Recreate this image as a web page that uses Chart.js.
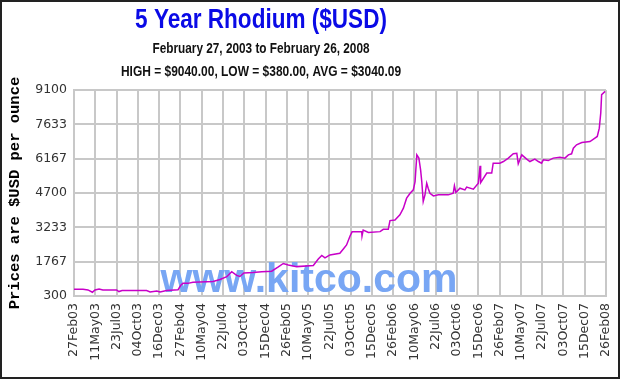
<!DOCTYPE html>
<html>
<head>
<meta charset="utf-8">
<script src="https://cdn.jsdelivr.net/npm/chart.js@4"></script>
<style>
  html,body{margin:0;padding:0;background:#fff;}
  #frame{width:620px;height:379px;box-sizing:border-box;border:2px solid #222;background:#fff;}
  canvas{display:block;}
</style>
</head>
<body>
<div id="frame"><canvas id="rhodium" width="616" height="375"></canvas></div>
<script>
// rhodium price, x = days since 27 Feb 2003
const days = [0,31,48,63,72,86,99,146,154,165,
  249,261,284,295,318,357,367,374,391,408,
  455,477,501,524,541,558,569,583,614,644,
  678,701,718,735,764,821,838,850,861,878,
  912,924,935,947,954,987,988,992,1010,1050,
  1061,1078,1084,1101,1118,1130,1141,1153,1164,1170,
  1176,1183,1189,1193,1198,1204,1210,1215,1221,1233,
  1250,1284,1301,1305,1310,1324,1341,1347,1370,1387,
  1393,1395,1416,1433,1438,1461,1473,1490,1507,1519,
  1524,1536,1553,1564,1581,1593,1604,1610,1627,1644,
  1667,1684,1696,1707,1713,1724,1742,1770,1787,1795,
  1802,1807,1810,1822];
const prices = [590,590,560,460,560,600,560,560,490,535,
  530,470,515,470,530,570,770,840,840,885,
  910,920,1005,1125,1340,1180,1135,1285,1305,1340,
  1360,1540,1690,1625,1555,1605,1880,2030,1925,2055,
  2125,2310,2480,2865,3040,3050,2865,3120,3015,3050,
  3150,3150,3520,3550,3765,4050,4480,4690,4835,5190,
  6330,6190,5690,5190,4335,4620,5120,4905,4690,4575,
  4620,4620,4690,5005,4720,4905,4835,4950,4865,5120,
  5860,5145,5550,5550,5975,5975,6045,6190,6375,6395,
  5945,6330,6145,6045,6145,6045,5975,6115,6085,6190,
  6230,6190,6330,6375,6615,6760,6855,6900,7045,7115,
  7470,8115,8900,9040];

const xLabels = ['27Feb03','11May03','23Jul03','04Oct03','16Dec03','27Feb04','10May04','22Jul04',
  '03Oct04','15Dec04','26Feb05','10May05','22Jul05','03Oct05','15Dec05','26Feb06','10May06',
  '22Jul06','03Oct06','15Dec06','26Feb07','10May07','22Jul07','03Oct07','15Dec07','26Feb08'];
const labelStep = 73; // days between date labels
const yTicks = [300,1767,3233,4700,6167,7633,9100];

const titleLines = ['5 Year Rhodium ($USD)',
  'February 27, 2003 to February 26, 2008',
  'HIGH = $9040.00, LOW = $380.00, AVG = $3040.09'];
const watermark = 'www.kitco.com';

// titles are a narrow bold face, so squeeze Liberation Sans a bit
const titlePlugin = {
  id:'titles',
  afterDraw(chart){
    const ctx = chart.ctx;
    const rows = [
      {text:titleLines[0], size:27.5, y:26, color:'#0a0ae6'},
      {text:titleLines[1], size:14.4, y:51, color:'#111'},
      {text:titleLines[2], size:14.6, y:74, color:'#111'}
    ];
    ctx.save();
    ctx.textAlign = 'center';
    ctx.textBaseline = 'alphabetic';
    rows.forEach(r=>{
      ctx.save();
      ctx.translate(259, r.y);
      ctx.scale(0.82,1);
      ctx.font = 'bold '+r.size+'px "Liberation Sans", Arial, sans-serif';
      ctx.fillStyle = r.color;
      ctx.fillText(r.text, 0, 0);
      ctx.restore();
    });
    ctx.restore();
  }
};

const watermarkPlugin = {
  id:'watermark',
  beforeDatasetsDraw(chart){
    const ctx = chart.ctx;
    ctx.save();
    ctx.font = 'bold 41px "Liberation Sans", Arial, sans-serif';
    ctx.fillStyle = '#78a6f4';
    ctx.textAlign = 'center';
    ctx.textBaseline = 'alphabetic';
    ctx.fillText(watermark, 307, 290);
    ctx.restore();
  }
};

const gridGray = '#c8c8c8';

new Chart(document.getElementById('rhodium').getContext('2d'), {
  type:'line',
  data:{datasets:[{
    data: days.map((d,i)=>({x:d, y:prices[i]})),
    borderColor:'#c800c8', borderWidth:1.5, pointRadius:0, tension:0, fill:false
  }]},
  options:{
    responsive:false, animation:false, devicePixelRatio:1,
    layout:{padding:{top:88, right:12, left:0, bottom:0}},
    plugins:{legend:{display:false}, tooltip:{enabled:false}, title:{display:false}},
    scales:{
      x:{
        type:'linear', min:0, max:labelStep*(xLabels.length-1),
        afterBuildTicks: s=>{ s.ticks = xLabels.map((l,i)=>({value:i*labelStep})); },
        afterFit: s=>{ s.height = 81; s.paddingLeft = 0; s.paddingRight = 0; },
        grid:{color:gridGray, lineWidth:2, drawTicks:false},
        border:{color:gridGray, width:2},
        ticks:{autoSkip:false, maxRotation:90, minRotation:90, padding:7, color:'#333',
          font:{family:'"DejaVu Sans", Verdana, sans-serif', size:12.5},
          callback:(v,i)=>xLabels[i]}
      },
      y:{
        min:yTicks[0], max:yTicks[yTicks.length-1],
        afterBuildTicks: s=>{ s.ticks = yTicks.map(v=>({value:v})); },
        afterFit: s=>{ s.width = 72; s.paddingTop = 0; s.paddingBottom = 0; },
        grid:{color:gridGray, lineWidth:2, drawTicks:false},
        border:{color:gridGray, width:2},
        ticks:{padding:7, color:'#333',
          font:{family:'"DejaVu Sans", Verdana, sans-serif', size:12.5},
          callback:v=>String(v)},
        title:{display:true, text:'Prices are $USD per ounce', color:'#000',
          padding:{top:4, bottom:0},
          font:{family:'"Liberation Mono", "Courier New", monospace', size:15.5, weight:'bold'}}
      }
    }
  },
  plugins:[titlePlugin, watermarkPlugin]
});
</script>
</body>
</html>
